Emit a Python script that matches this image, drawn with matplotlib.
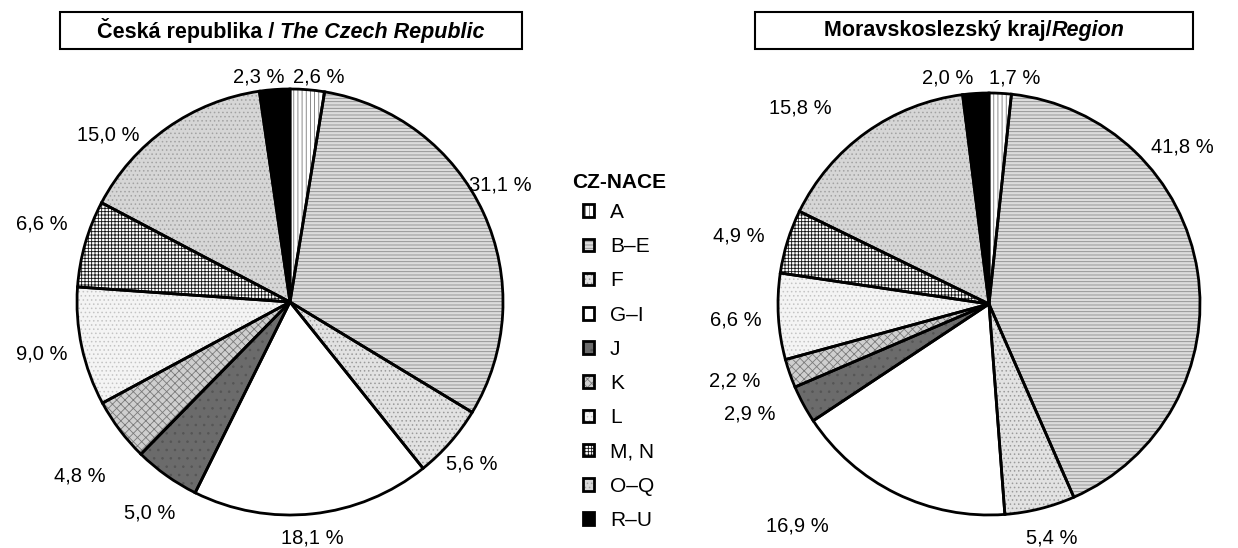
import numpy as np
import matplotlib
matplotlib.use('Agg')
import matplotlib.pyplot as plt
from matplotlib.patches import Patch, Rectangle
from matplotlib.legend_handler import HandlerTuple
from matplotlib.offsetbox import TextArea, HPacker, AnnotationBbox

plt.rcParams['font.family'] = ['Liberation Sans', 'DejaVu Sans']
plt.rcParams['hatch.linewidth'] = 0.6

sections = ['A', 'B–E', 'F', 'G–I', 'J', 'K', 'L', 'M, N', 'O–Q', 'R–U']
cz_share = [2.6, 31.1, 5.6, 18.1, 5.0, 4.8, 9.0, 6.6, 15.0, 2.3]
msk_share = [1.7, 41.8, 5.4, 16.9, 2.9, 2.2, 6.6, 4.9, 15.8, 2.0]

# face colour, hatch colour, hatch pattern (grey-scale print look)
styles = [
    ('white', '#777777', '||||'),
    ('#dcdcdc', '#8c8c8c', '-----'),
    ('#e2e2e2', '#9a9a9a', '....'),
    ('white', 'white', ''),
    ('#6b6b6b', '#555555', '..'),
    ('#cfcfcf', '#7a7a7a', 'xxxx'),
    ('#f4f4f4', '#c4c4c4', '....'),
    ('white', '#111111', '+++++'),
    ('#d6d6d6', '#a2a2a2', '....'),
    ('black', 'black', ''),
]

# label placement (polar: angle in degrees, distance in pie radii), like the
# "best fit" placement of the original
cz_label_pos = [(82.6, 1.065), (29.1, 1.13), (-41.7, 1.14), (-84.7, 1.115),
                (-123.6, 1.19), (-140.4, 1.28), (-168.2, 1.19), (162.5, 1.22),
                (137.5, 1.16), (97.9, 1.065)]
msk_label_pos = [(83.5, 1.08), (39.1, 1.18), (-75.0, 1.15), (-130.9, 1.39),
                 (-155.3, 1.25), (-163.1, 1.26), (-176.4, 1.20), (164.8, 1.23),
                 (133.9, 1.29), (100.4, 1.09)]

W, H = 1238, 548
fig = plt.figure(figsize=(W / 100, H / 100), dpi=100)


def fmt(v):
    return ('%.1f %%' % v).replace('.', ',')


def draw_pie(cx, cy, r, values, label_pos):
    ax = fig.add_axes([(cx - r) / W, (H - cy - r) / H, 2 * r / W, 2 * r / H])
    wedges, _ = ax.pie(values, startangle=90, counterclock=False,
                       colors=[s[0] for s in styles],
                       wedgeprops=dict(linewidth=0))
    for w, s in zip(wedges, styles):
        w.set_edgecolor(s[1])
        w.set_hatch(s[2])
    ax.pie(values, startangle=90, counterclock=False,
           wedgeprops=dict(fill=False, edgecolor='black', linewidth=2))
    ax.set_xlim(-1, 1)
    ax.set_ylim(-1, 1)
    ax.set_aspect('equal')
    ax.axis('off')

    for v, (a, d) in zip(values, label_pos):
        a = np.deg2rad(a)
        ax.text(d * np.cos(a), d * np.sin(a), fmt(v), ha='center',
                va='center', fontsize=14.5)
    return ax


def title_box(x0, x1, y0, y1, parts):
    fig.add_artist(Rectangle((x0 / W, 1 - y1 / H), (x1 - x0) / W, (y1 - y0) / H,
                             transform=fig.transFigure, fill=False,
                             edgecolor='black', linewidth=1.5))
    areas = [TextArea(txt, textprops=dict(fontsize=15.5, fontweight='bold',
                                          fontstyle=st))
             for txt, st in parts]
    box = HPacker(children=areas, pad=0, sep=0, align='baseline')
    ab = AnnotationBbox(box, ((x0 + x1) / 2 / W, 1 - (y0 + y1) / 2 / H),
                        xycoords='figure fraction', frameon=False,
                        box_alignment=(0.5, 0.5))
    fig.add_artist(ab)


draw_pie(290, 302, 213, cz_share, cz_label_pos)
draw_pie(989, 304, 211, msk_share, msk_label_pos)

title_box(60, 522, 12, 49, [('Česká republika / ', 'normal'),
                            ('The Czech Republic', 'italic')])
title_box(755, 1193, 12, 49, [('Moravskoslezský kraj/', 'normal'),
                              ('Region', 'italic')])

fig.text(572 / W, 1 - 183 / H, 'CZ-NACE', fontsize=15, fontweight='bold',
         ha='left', va='center')

handles = []
for s in styles:
    p1 = Patch(facecolor=s[0], edgecolor=s[1], hatch=s[2], linewidth=0)
    p2 = Patch(fill=False, edgecolor='black', linewidth=2)
    handles.append((p1, p2))
fig.legend(handles, sections, loc='upper left',
           bbox_to_anchor=(583 / W, 1 - 203 / H),
           handler_map={tuple: HandlerTuple(ndivide=1)},
           frameon=False, fontsize=15,
           handlelength=0.55, handleheight=0.55, handletextpad=0.75,
           labelspacing=0.73, borderpad=0, borderaxespad=0)

fig.savefig('out.png', dpi=100)
